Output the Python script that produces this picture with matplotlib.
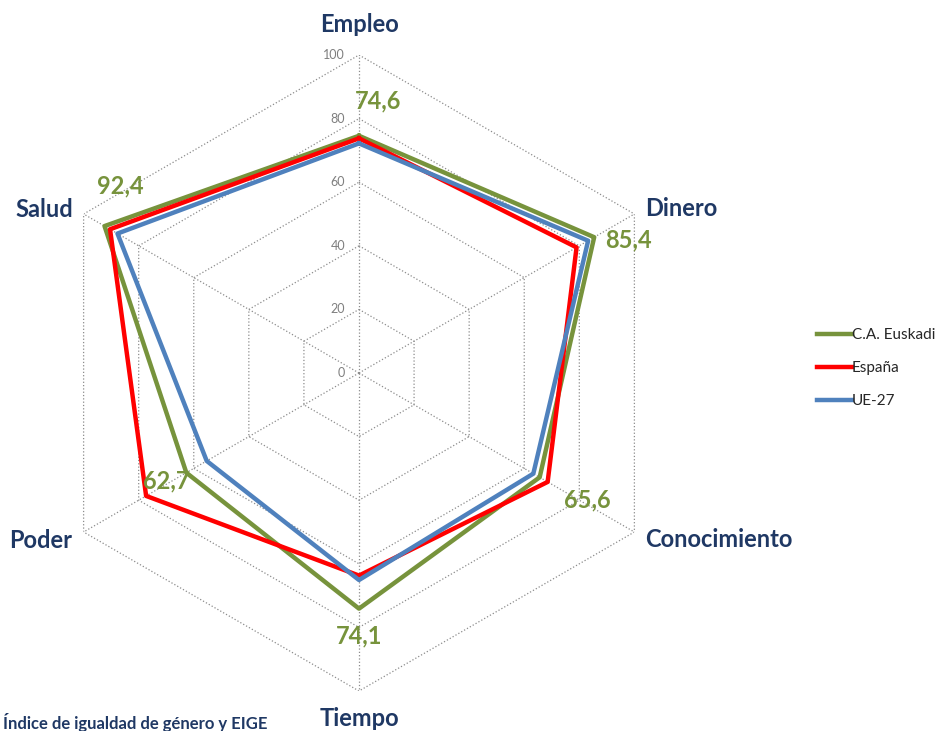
import numpy as np
import matplotlib.pyplot as plt

categories = ['Empleo', 'Dinero', 'Conocimiento', 'Tiempo', 'Poder', 'Salud']
euskadi = [74.6, 85.4, 65.6, 74.1, 62.7, 92.4]
espana = [73.8, 79.0, 68.5, 63.7, 77.3, 90.4]
ue27 = [72.2, 83.2, 63.3, 65.1, 55.3, 87.7]
value_labels = ['74,6', '85,4', '65,6', '74,1', '62,7', '92,4']
levels = [0, 20, 40, 60, 80, 100]

GREEN = '#77933C'
RED = '#FF0000'
BLUE = '#4F81BD'
NAVY = '#1F3864'

plt.rcParams['font.family'] = ['Lato', 'DejaVu Sans']

fig = plt.figure(figsize=(9.44, 7.31), dpi=100)
ax = fig.add_axes([41 / 944, 40 / 731, 636 / 944, 636 / 731], projection='polar')
ax.set_theta_zero_location('N')
ax.set_theta_direction(-1)
ax.set_ylim(0, 100)
ax.grid(False)
ax.spines['polar'].set_visible(False)
ax.set_xticks([])
ax.set_yticks([])
ax.patch.set_alpha(0)

n = len(categories)
theta = np.linspace(0, 2 * np.pi, n, endpoint=False)
theta_c = np.append(theta, theta[0])

# grid: hexagons and spokes
for lv in levels[1:]:
    ax.plot(theta_c, [lv] * (n + 1), ls=':', color='#8C8C8C', lw=0.9, zorder=1)
for t in theta:
    ax.plot([t, t], [0, 100], ls=':', color='#8C8C8C', lw=0.9, zorder=1)

for lv in levels:
    ax.annotate(str(lv), xy=(0, lv), xytext=(-10, 0), textcoords='offset points',
                ha='right', va='center', fontsize=9, color='#7F7F7F')

def close(v):
    return list(v) + [v[0]]

ax.plot(theta_c, close(euskadi), color=GREEN, lw=3.2, label='C.A. Euskadi', zorder=3)
ax.plot(theta_c, close(espana), color=RED, lw=3.2, label='España', zorder=3)
ax.plot(theta_c, close(ue27), color=BLUE, lw=3.2, label='UE-27', zorder=3)

# category labels (offsets in px)
cat_off = [(0, 31, 'center'), (11, 5, 'left'), (11, -8, 'left'),
           (0, -28, 'center'), (-11, -8, 'right'), (-10, 5, 'right')]
for t, name, (dx, dy, ha) in zip(theta, categories, cat_off):
    ax.annotate(name, xy=(t, 100), xytext=(dx * 0.72, dy * 0.72),
                textcoords='offset points', ha=ha, va='center',
                fontsize=17, fontweight='bold', color=NAVY, annotation_clip=False)

# value labels for Euskadi
val_off = [(19, 35), (34, -3), (48, -23), (0, -27), (-20, -8), (16, 40)]
for t, v, txt, (dx, dy) in zip(theta, euskadi, value_labels, val_off):
    ax.annotate(txt, xy=(t, v), xytext=(dx * 0.72, dy * 0.72),
                textcoords='offset points', ha='center', va='center',
                fontsize=17, fontweight='bold', color=GREEN, annotation_clip=False)

fig.legend(loc='center left', bbox_to_anchor=(803 / 944, 1 - 368 / 731),
           frameon=False, fontsize=11, handlelength=2.3, handletextpad=0.0,
           labelspacing=1.25, labelcolor='#262626')

fig.text(3 / 944, 1 - 722 / 731, 'Índice de igualdad de género y EIGE',
         ha='left', va='center', fontsize=12, fontweight='bold', color=NAVY)

fig.savefig('out.png', dpi=100)
